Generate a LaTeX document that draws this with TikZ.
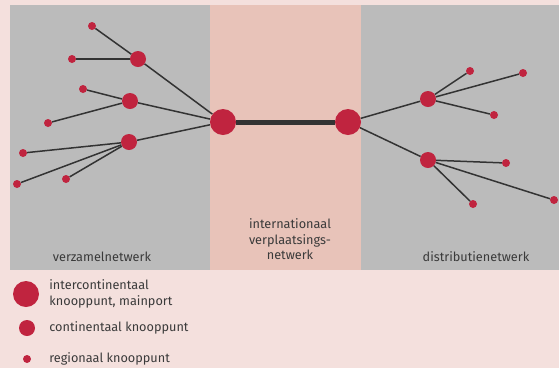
\documentclass[tikz,border=0pt]{standalone}
\usepackage{fontspec}
\setmainfont{Fira Sans}
\usetikzlibrary{positioning}
\definecolor{achter}{HTML}{F4E0DD}
\definecolor{grijs}{HTML}{BBBBBB}
\definecolor{zalm}{HTML}{E8C3B9}
\definecolor{rood}{HTML}{C0243F}
\definecolor{lijn}{HTML}{333333}
\definecolor{tekst}{HTML}{3A3A3A}

\begin{document}
\begin{tikzpicture}[x=1pt,y=-1pt,
  mainport/.style={circle,fill=rood,minimum size=26pt,inner sep=0pt},
  knoop/.style={circle,fill=rood,minimum size=16pt,inner sep=0pt},
  regio/.style={circle,fill=rood,minimum size=8pt,inner sep=0pt},
  verbinding/.style={draw=lijn,line width=1.5pt},
  tekstje/.style={text=tekst,inner sep=0pt,font=\fontsize{12.7}{15.5}\selectfont}]
% the background and the three panels
\fill[achter] (0,0) rectangle (559,368);
\useasboundingbox (0,0) rectangle (559,368);
\fill[grijs] (10,5) rectangle (210,269.5);
\fill[zalm] (210,5) rectangle (361,269.5);
\fill[grijs] (361,5) rectangle (559,269.5);
% the mainports
\node[mainport] (mL) at (223,122) {};
\node[mainport] (mR) at (348,122) {};
% the continental nodes
\node[knoop] (vA) at (138,59) {};
\node[knoop] (vB) at (130,101) {};
\node[knoop] (vC) at (129,142) {};
\node[knoop] (dA) at (428,99) {};
\node[knoop] (dB) at (428,160) {};
% the regional nodes
\foreach \n/\x/\y in {vA1/92/26, vA2/72/59, vB1/83/89, vB2/48/123,
    vC1/23/153, vC2/17/184, vC3/66/179, dA1/470/71, dA2/523/73,
    dA3/494/115, dB1/506/163, dB2/554/200, dB3/473/204}
  \node[regio] (\n) at (\x,\y) {};
% the connections
\draw[draw=lijn,line width=5pt] (mL) -- (mR);
\foreach \a/\b in {vA/mL, vB/mL, vC/mL, mR/dA, mR/dB,
    vA1/vA, vA2/vA, vB1/vB, vB2/vB, vC1/vC, vC2/vC, vC3/vC,
    dA/dA1, dA/dA2, dA/dA3, dB/dB1, dB/dB2, dB/dB3}
  \draw[verbinding] (\a) -- (\b);
% the panel labels
\node[tekstje] (verzamel) at (102,257) {verzamelnetwerk};
\node[tekstje,align=center] (verplaats) at (290,239.5) {internationaal\\verplaatsings-\\netwerk};
\node[tekstje] (distributie) at (476,257) {distributienetwerk};
% the legend
\node[mainport] (lg1) at (26,294) {};
\node[tekstje,align=left,right=10pt of lg1] (lt1) {intercontinentaal\\knooppunt, mainport};
\node[knoop] (lg2) at (27,328) {};
\node[tekstje,right=14pt of lg2] (lt2) {continentaal knooppunt};
\node[regio] (lg3) at (27,359) {};
\node[tekstje,right=18pt of lg3] (lt3) {regionaal knooppunt};
\end{tikzpicture}
\end{document}
